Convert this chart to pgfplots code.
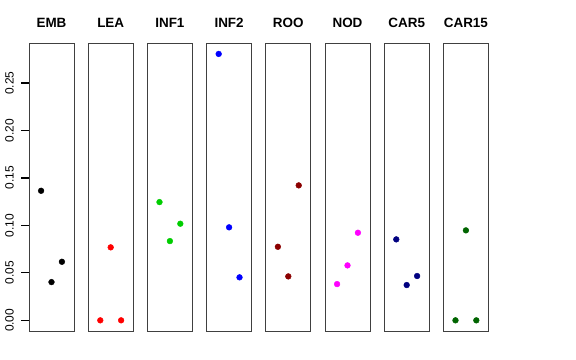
\documentclass[border=0pt]{standalone}
\usepackage{pgfplots}
\pgfplotsset{compat=1.18}
\usepackage{fontspec}
\setmainfont{Liberation Sans}
\definecolor{rgreen}{RGB}{0,205,0}
\definecolor{rdarkred}{RGB}{139,0,0}
\definecolor{rmagenta}{RGB}{255,0,255}
\definecolor{rnavy}{RGB}{0,0,128}
\definecolor{rdarkgreen}{RGB}{0,100,0}
\pgfplotsset{
  panel/.style={
    width=45bp, height=287.7bp, scale only axis,
    xmin=-0.16, xmax=4.16, ymin=-0.01123, ymax=0.2919,
    xtick=\empty, ytick=\empty,
    axis line style={black!75, line width=0.9bp},
    anchor=south west,
    title style={font=\fontsize{13.5}{14}\selectfont, anchor=base, at={(0.5,1)}, yshift=9.5bp, inner sep=0pt},
    clip=false,
  },
  pts/.style={only marks, mark=*, mark size=2.9bp, mark options={draw=#1, fill=#1}},
}
\begin{document}
\begin{tikzpicture}
\useasboundingbox (0,0) rectangle (576bp,360bp);
\begin{axis}[panel, at={(29bp,29bp)}, title={\textbf{EMB}},
  ytick={0,0.05,0.10,0.15,0.20,0.25},
  yticklabels={0.00,0.05,0.10,0.15,0.20,0.25},
  ytick pos=left, ytick align=outside, major tick length=7.5bp,
  ytick style={draw=black, line width=1.2bp},
  yticklabel style={xshift=-7.5bp, rotate=90, anchor=south, inner sep=0pt, font=\fontsize{12}{13}\selectfont},
  /pgf/number format/assume math mode=true]
\addplot[pts=black] coordinates {(1,0.1365) (2,0.0403) (3,0.0617)};
\end{axis}
\begin{axis}[panel, at={(88.2bp,29bp)}, title={\textbf{LEA}}]
\addplot[pts=red] coordinates {(1,0) (2,0.0769) (3,0)};
\end{axis}
\begin{axis}[panel, at={(147.4bp,29bp)}, title={\textbf{INF1}}]
\addplot[pts=rgreen] coordinates {(1,0.1246) (2,0.0835) (3,0.1018)};
\end{axis}
\begin{axis}[panel, at={(206.6bp,29bp)}, title={\textbf{INF2}}]
\addplot[pts=blue] coordinates {(1,0.2807) (2,0.0980) (3,0.0453)};
\end{axis}
\begin{axis}[panel, at={(265.8bp,29bp)}, title={\textbf{ROO}}]
\addplot[pts=rdarkred] coordinates {(1,0.0775) (2,0.0463) (3,0.1422)};
\end{axis}
\begin{axis}[panel, at={(325bp,29bp)}, title={\textbf{NOD}}]
\addplot[pts=rmagenta] coordinates {(1,0.0382) (2,0.0579) (3,0.0923)};
\end{axis}
\begin{axis}[panel, at={(384.2bp,29bp)}, title={\textbf{CAR5}}]
\addplot[pts=rnavy] coordinates {(1,0.0853) (2,0.0372) (3,0.0467)};
\end{axis}
\begin{axis}[panel, at={(443.4bp,29bp)}, title={\textbf{CAR15}}]
\addplot[pts=rdarkgreen] coordinates {(1,0) (2,0.0948) (3,0)};
\end{axis}
\end{tikzpicture}
\end{document}
